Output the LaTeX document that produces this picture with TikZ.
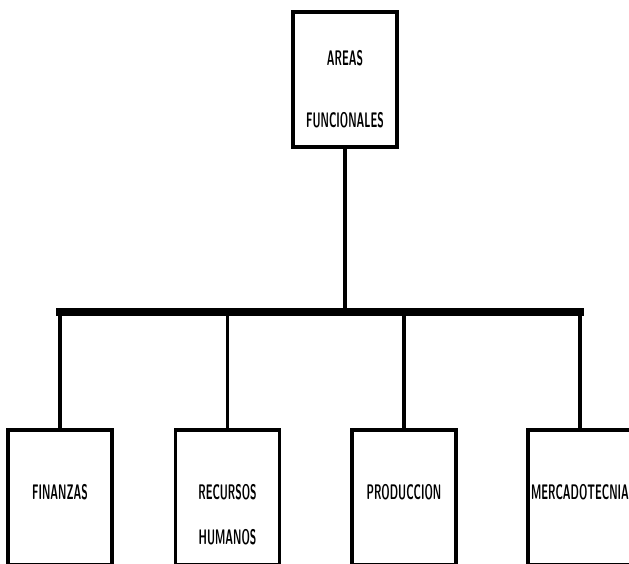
\documentclass[tikz,border=0pt]{standalone}
\usepackage{graphicx}
\usepackage{tikz}
\usetikzlibrary{shapes,arrows,positioning,fit}

\newcommand{\mx}[1]{\scalebox{0.5}[1]{#1}}

\begin{document}
\begin{tikzpicture}[x=0.04cm,y=-0.04cm]
		\tikzstyle{Box}		= [rectangle, draw, line width=3.6pt, fill=white, minimum width=104*0.04cm, minimum height=135*0.04cm, inner sep=0pt]
		\tikzstyle{Label}	= [align=center, inner sep=0pt, font=\sffamily\bfseries\fontsize{24}{26}\selectfont]
		\tikzstyle{Link}	= [line width=3.6pt]
		\tikzstyle{Bar}		= [line width=8pt]

		\useasboundingbox (0,0) rectangle (629,563);
		\clip (0,0) rectangle (629,563);

		\node (areas) at (345,79.5) [Box] {};
		\node (areasTxt) at (345,89) [Label] {\mx{AREAS}\\[44pt]\mx{FUNCIONALES}};

		\coordinate (barL) at (56,312);
		\coordinate (barR) at (584,312);

		\node (fin) at (60,497.5) [Box] {};
		\node (rh) at (227.5,497.5) [Box] {};
		\node (prod) at (404,497.5) [Box] {};
		\node (merc) at (580,497.5) [Box] {};

		\node (finTxt) at (fin |- 0,492) [Label] {\mx{FINANZAS}};
		\node (rhTxt) at (227.5,514.5) [Label] {\mx{RECURSOS}\\[25pt]\mx{HUMANOS}};
		\node (prodTxt) at (prod |- 0,492) [Label] {\mx{PRODUCCION}};
		\node (mercTxt) at (580,492) [Label] {\mx{MERCADOTECNIA}};

		\draw [-] (barL) to (barR) [Bar];
		\draw [-] (areas.south) to (areas.south |- barL) [Link];
		\draw [-] (fin.north |- barL) to (fin.north) [Link];
		\draw [-] (rh.north |- barL) to (rh.north) [Link];
		\draw [-] (prod.north |- barL) to (prod.north) [Link];
		\draw [-] (merc.north |- barL) to (merc.north) [Link];
\end{tikzpicture}
\end{document}
